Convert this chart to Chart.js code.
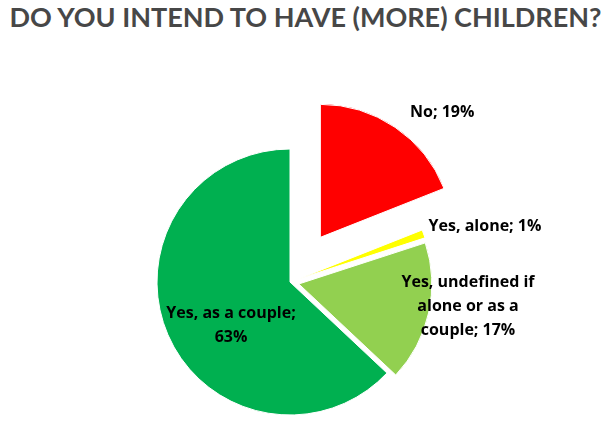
<!DOCTYPE html>
<html>
<head>
<meta charset="utf-8">
<script src="https://cdn.jsdelivr.net/npm/chart.js@4.4.1/dist/chart.umd.min.js"></script>
<style>
  html, body { margin: 0; padding: 0; background: #ffffff; }
  #wrap { position: relative; width: 611px; height: 423px; overflow: hidden; }
  #title {
    position: absolute; left: 0; top: 1px; width: 611px; text-align: center;
    font-family: Lato, "Open Sans", sans-serif; font-weight: bold; font-size: 27px;
    color: #474747; white-space: nowrap; margin: 0; line-height: 32px;
  }
  canvas { position: absolute; left: 0; top: 0; }
</style>
</head>
<body>
<div id="wrap">
  <div id="title">DO YOU INTEND TO HAVE (MORE) CHILDREN?</div>
  <canvas id="c" width="611" height="423"></canvas>
</div>
<script>
// ---- data ----
const categories = ['No', 'Yes, alone', 'Yes, undefined if alone or as a couple', 'Yes, as a couple'];
const shares = [19, 1, 17, 63];

// ---- styling ----
const sliceColors = ['#FF0000', '#FFFF00', '#92D050', '#00B050'];
const explodeDistance = [54, 9, 9, 0];   // pixels each slice is pulled out along its mid-angle
const labelPlacement = [
  { angle: -45.6, dist: 1.31, maxWidth: 200 },
  { angle: -15.6, dist: 1.456, maxWidth: 200 },
  { angle: 7.4,  dist: 1.283, maxWidth: 150 },
  { angle: 143.9, dist: 0.549, maxWidth: 150 }
];
const labelFont = 'bold 16px "Open Sans", Lato, sans-serif';
const lineHeight = 24;

function wrapText(ctx, text, maxWidth) {
  const words = text.split(' ');
  const lines = [];
  let cur = '';
  for (const w of words) {
    const test = cur ? cur + ' ' + w : w;
    if (ctx.measureText(test).width > maxWidth && cur) {
      lines.push(cur);
      cur = w;
    } else {
      cur = test;
    }
  }
  if (cur) lines.push(cur);
  return lines;
}

function sliceCenter(arc, i) {
  const p = arc.getProps(['x', 'y', 'startAngle', 'endAngle', 'outerRadius'], true);
  const mid = (p.startAngle + p.endAngle) / 2;
  return {
    x: p.x + Math.cos(mid) * explodeDistance[i],
    y: p.y + Math.sin(mid) * explodeDistance[i],
    r: p.outerRadius,
    dx: Math.cos(mid) * explodeDistance[i],
    dy: Math.sin(mid) * explodeDistance[i]
  };
}

const explodedSlices = {
  id: 'explodedSlices',
  beforeDatasetDraw(chart, args) {
    const ctx = chart.ctx;
    const meta = chart.getDatasetMeta(args.index);
    meta.data.forEach((arc, i) => {
      const c = sliceCenter(arc, i);
      ctx.save();
      ctx.translate(c.dx, c.dy);
      arc.draw(ctx);
      ctx.restore();
    });
    return false;
  }
};

const sliceLabels = {
  id: 'sliceLabels',
  afterDatasetsDraw(chart) {
    const ctx = chart.ctx;
    const meta = chart.getDatasetMeta(0);
    ctx.save();
    ctx.font = labelFont;
    ctx.fillStyle = '#000000';
    ctx.textAlign = 'center';
    ctx.textBaseline = 'middle';
    meta.data.forEach((arc, i) => {
      const c = sliceCenter(arc, i);
      const pl = labelPlacement[i];
      const a = pl.angle * Math.PI / 180;
      const lx = c.x + Math.cos(a) * pl.dist * c.r;
      const ly = c.y + Math.sin(a) * pl.dist * c.r;
      const text = categories[i] + '; ' + shares[i] + '%';
      const lines = wrapText(ctx, text, pl.maxWidth);
      const y0 = ly - (lines.length - 1) * lineHeight / 2;
      lines.forEach((ln, k) => ctx.fillText(ln, lx, y0 + k * lineHeight));
    });
    ctx.restore();
  }
};

new Chart(document.getElementById('c'), {
  type: 'pie',
  data: {
    labels: categories,
    datasets: [{
      data: shares,
      backgroundColor: sliceColors,
      borderColor: '#ffffff',
      borderWidth: 1,
      radius: 133,
      clip: false
    }]
  },
  options: {
    responsive: false,
    animation: false,
    rotation: 0,
    layout: { padding: { top: 141, bottom: 0, left: 0, right: 31 } },
    plugins: {
      legend: { display: false },
      title: { display: false },
      tooltip: { enabled: false }
    }
  },
  plugins: [explodedSlices, sliceLabels]
});
</script>
</body>
</html>
